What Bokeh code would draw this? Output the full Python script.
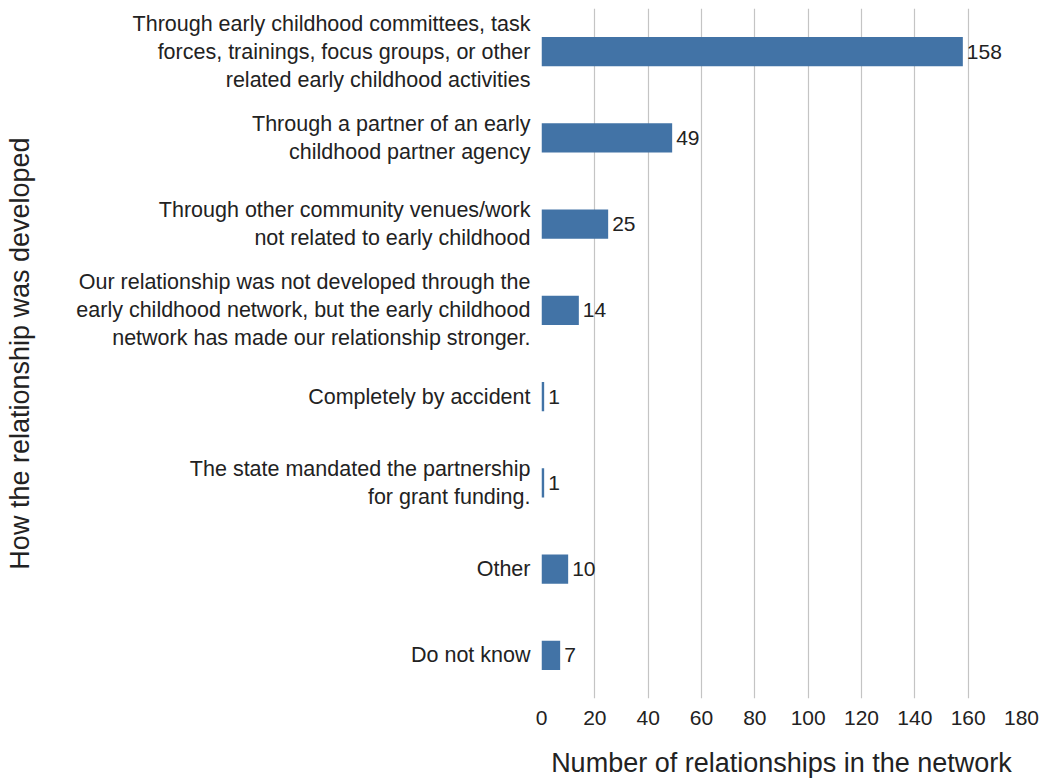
from bokeh.plotting import figure
from bokeh.models import ColumnDataSource, FactorRange, Range1d, FixedTicker
from bokeh.core.properties import value
from bokeh.embed import file_html
from bokeh.resources import INLINE

categories = [
    "Through early childhood committees, task\nforces, trainings, focus groups, or other\nrelated early childhood activities",
    "Through a partner of an early\nchildhood partner agency",
    "Through other community venues/work\nnot related to early childhood",
    "Our relationship was not developed through the\nearly childhood network, but the early childhood\nnetwork has made our relationship stronger.",
    "Completely by accident",
    "The state mandated the partnership\nfor grant funding.",
    "Other",
    "Do not know",
]
counts = [158, 49, 25, 14, 1, 1, 10, 7]
x_ticks = [0, 20, 40, 60, 80, 100, 120, 140, 160, 180]

FONT = "Liberation Sans"
BAR = "#4273a6"
TXT = "#222222"

src = ColumnDataSource(dict(cat=categories, n=counts, lab=[str(v) for v in counts]))

p = figure(
    y_range=FactorRange(factors=list(reversed(categories))),
    x_range=Range1d(0, 180),
    width=1046, height=779,
    frame_width=480, frame_height=690,
    min_border_left=541, min_border_right=25, min_border_top=8, min_border_bottom=81,
    output_backend="svg", toolbar_location=None,
)
p.hbar(y="cat", right="n", left=0, height=0.34, source=src, color=BAR, line_color=None)
p.text(x="n", y="cat", text="lab", source=src, x_offset=4,
       text_font=value(FONT), text_font_size="21px", text_color=TXT,
       text_baseline="middle", text_align="left")

p.outline_line_color = None
p.ygrid.grid_line_color = None
p.xgrid.grid_line_color = "#c4c4c4"
p.xgrid.grid_line_width = 1.2
p.xaxis.ticker = FixedTicker(ticks=x_ticks)

for ax in (p.xaxis[0], p.yaxis[0]):
    ax.axis_line_color = None
    ax.major_tick_line_color = None
    ax.minor_tick_line_color = None
    ax.major_label_text_font = FONT
    ax.major_label_text_color = TXT
    ax.axis_label_text_font = FONT
    ax.axis_label_text_color = TXT
    ax.axis_label_text_font_style = "normal"
    ax.axis_label_text_font_size = "27px"

p.xaxis.major_label_text_font_size = "21px"
p.xaxis.major_label_standoff = 6
p.xaxis.axis_label = "Number of relationships in the network"
p.xaxis.axis_label_standoff = 20

p.yaxis.major_label_text_font_size = "21.5px"
p.yaxis.major_label_text_line_height = 1.17
p.yaxis.major_label_standoff = 5
p.yaxis.axis_label = "How the relationship was developed"
p.yaxis.axis_label_standoff = 38

open("out.html", "w").write(file_html(p, INLINE))
